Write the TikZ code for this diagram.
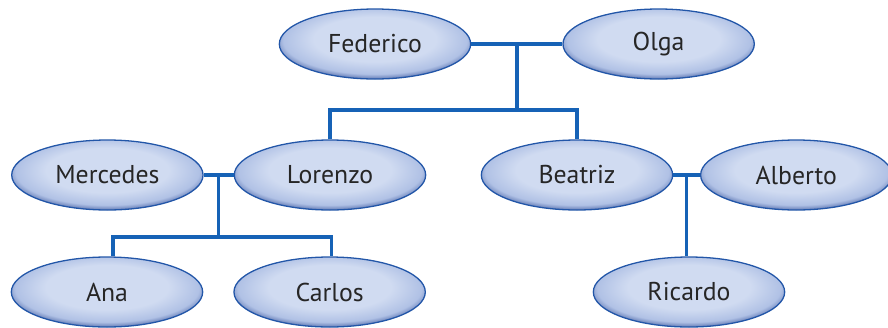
\documentclass[tikz,border=0pt]{standalone}
\usepackage{fontspec}
\setmainfont{PT Sans}
\usetikzlibrary{shapes,positioning,calc}
\definecolor{tieblue}{RGB}{22,98,182}
\definecolor{rimblue}{RGB}{34,86,168}
\definecolor{ballin}{RGB}{208,219,241}
\definecolor{ballmid}{RGB}{176,193,229}
\definecolor{ballout}{RGB}{80,106,170}
\pgfdeclareradialshading{personball}{\pgfpoint{0bp}{5bp}}{%
  color(0bp)=(ballin); color(16bp)=(ballin); color(24bp)=(ballmid);
  color(28bp)=(ballout); color(50bp)=(ballout)}

\begin{document}
\begin{tikzpicture}[
        x=0.03cm, y=-0.03cm,
        person/.style={ellipse, draw=rimblue, line width=1.1pt, shading=personball, minimum width=5.74cm, minimum height=2.1cm, inner sep=0pt, font=\fontsize{22}{26}\selectfont, text=black!85},
        tie/.style={draw=tieblue, line width=3pt}
    ]
        \useasboundingbox (0,0) rectangle (888,327);

        % Grandparents
        \node[person] (federico) at (375,44) {Federico};
        \node[person, right=2.73cm of federico] (olga) {Olga};

        % Children and partners
        \node[person] (lorenzo) at (330,175) {Lorenzo};
        \node[person, left=0.9cm of lorenzo] (mercedes) {Mercedes};
        \node[person] (beatriz) at (577,175) {Beatriz};
        \node[person, right=0.8cm of beatriz] (alberto) {Alberto};

        % Grandchildren
        \node[person] (ana) at (107,292) {Ana};
        \node[person, right=0.9cm of ana] (carlos) {Carlos};
        \node[person] (ricardo) at (689,292) {Ricardo};

        % Marriage lines and branch points
        \coordinate (fedolga) at ($(federico.east)!0.5!(olga.west)$);
        \coordinate (merlor) at ($(mercedes.east)!0.5!(lorenzo.west)$);
        \coordinate (beaalb) at ($(beatriz.east)!0.5!(alberto.west)$);
        \coordinate (bar1) at (fedolga |- 0,110);
        \coordinate (bar2) at (merlor |- 0,237);

        \draw[tie] (federico) -- (olga);
        \draw[tie] (mercedes) -- (lorenzo);
        \draw[tie] (beatriz) -- (alberto);

        % Descent lines
        \draw[tie] (fedolga) -- (bar1);
        \draw[tie] (lorenzo.north) |- (bar1) -| (beatriz.north);
        \draw[tie] (merlor) -- (bar2);
        \draw[tie] ([xshift=0.18cm]ana.north) |- (bar2) -| ([xshift=0.06cm]carlos.north);
        \draw[tie] (beaalb) -- (beaalb |- ricardo.north);
    \end{tikzpicture}
\end{document}
